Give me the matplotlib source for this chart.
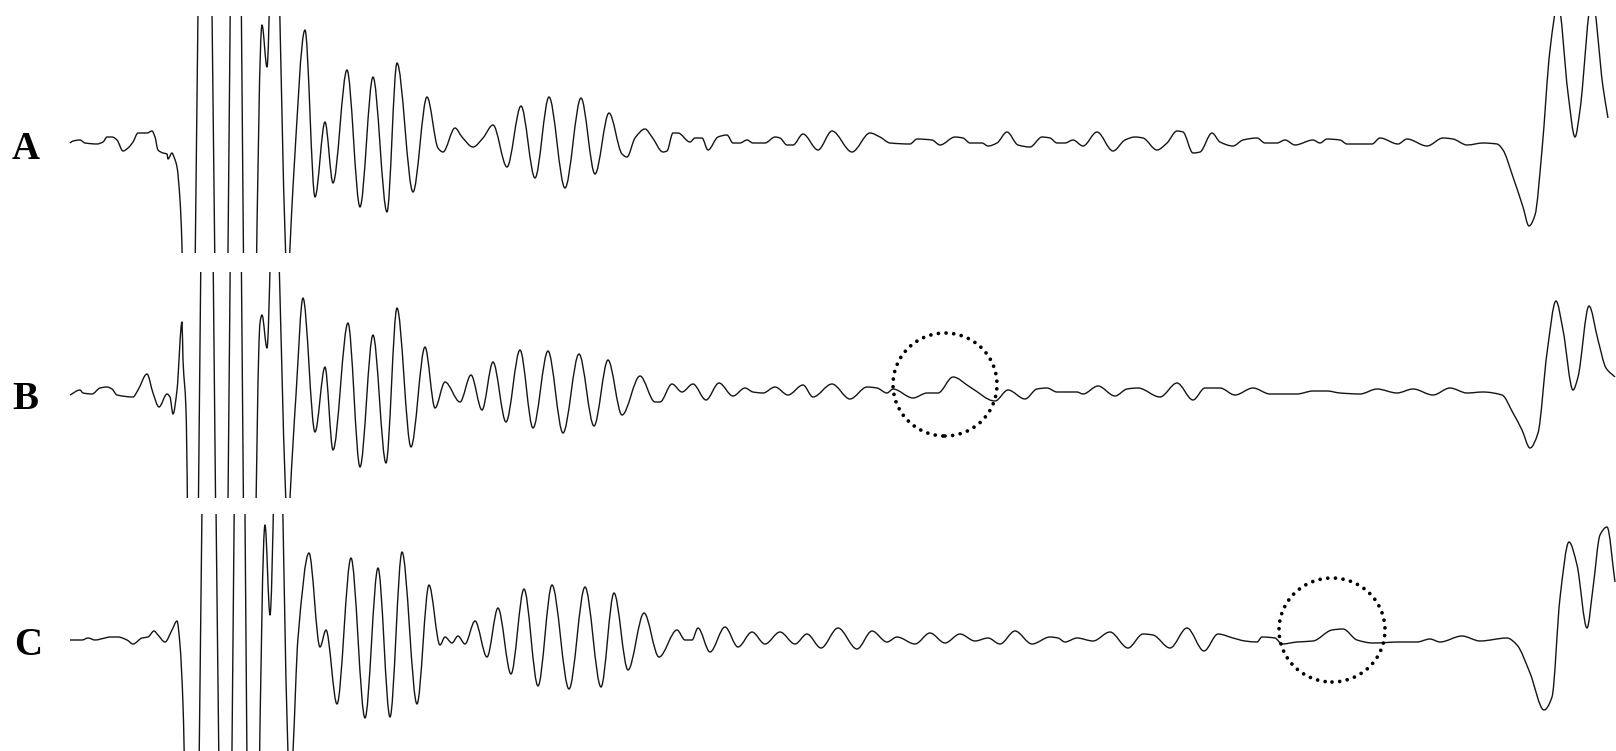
import numpy as np
import matplotlib
matplotlib.use("Agg")
import matplotlib.pyplot as plt
from matplotlib.path import Path
from matplotlib.patches import PathPatch, Ellipse

# ---------------- data (time sample, amplitude relative to baseline) ----------------
labels = ["A", "B", "C"]

a_t = [70, 73, 80, 85, 97, 103, 107, 112, 117, 123, 128, 133, 138, 143, 147, 152, 155, 158, 163, 167,
       168, 172, 174, 177, 180, 182, 188, 205, 222, 236, 249, 262, 267, 274, 285, 287.5, 290, 293, 305,
       315, 325, 333, 347, 360, 373, 387, 397, 413, 427, 438, 443, 455, 462, 473, 483, 493, 507, 521,
       535, 549, 565, 581, 595, 609, 622, 627, 635, 645, 652, 663, 667, 673, 678, 690, 695, 702, 708,
       718, 727, 733, 740, 747, 753, 765, 775, 780, 787, 793, 803, 818, 832, 852, 870, 880, 890, 910,
       917, 932, 940, 955, 963, 970, 982, 988, 997, 1007, 1018, 1030, 1042, 1050, 1057, 1065, 1073,
       1083, 1097, 1113, 1125, 1135, 1143, 1157, 1167, 1177, 1183, 1193, 1200, 1212, 1220, 1233, 1243,
       1257, 1265, 1277, 1285, 1295, 1313, 1320, 1327, 1340, 1347, 1372, 1380, 1398, 1407, 1427, 1443,
       1453, 1467, 1483, 1497, 1503, 1513, 1523, 1529, 1535, 1542, 1550, 1558, 1568, 1575, 1580, 1592,
       1603, 1608]
a_v = [0, 2, 3, 0, -1, 1, 6, 6, 3, -8, -5, 1, 10, 10, 10, 12, 6, -7, -10, -11,
       -16, -10, -14, -24, -57, -104, -500, 500, -500, 500, -500, 118, 76, 300, -90, -150, -104, -44, 113,
       -54, 21, -40, 73, -64, 66, -69, 80, -49, 46, -5, -9, 15, 6, -4, 5, 18, -24, 37,
       -35, 46, -45, 45, -31, 30, -11, -14, 5, 14, 6, -9, -8, 10, 10, 1, 5, 5, -7,
       6, 8, 0, 0, 3, 0, 0, 6, 5, -2, -2, 9, -7, 12, -9, 10, 6, 0, -1,
       4, 3, -2, 6, 5, 0, 0, -3, 0, 11, -2, -4, 6, 5, 0, 0, 3,
       -3, 11, -8, 3, 6, 5, -7, 0, 12, 11, -10, -9, 10, 1, -3, 3,
       5, 0, 0, 3, -2, 3, 0, 4, 3, -1, -1, 5, -1, 4, -3, 5,
       4, -2, 0, -1, -7, -34, -64, -83, -72, -7, 93, 140, 50, 6, 33, 145,
       56, 25]

b_t = [70, 80, 83, 92, 100, 107, 112, 117, 133, 138, 147, 153, 159, 167, 170, 173, 177, 182, 183, 186,
       192, 207, 222, 236, 249, 260, 262, 267, 274, 285, 288, 290, 296, 303, 315, 325, 333, 348, 360,
       373, 386, 397, 411, 425, 435, 445, 460, 471, 482, 493, 506, 520, 533, 548, 563, 579, 594, 608,
       622, 640, 655, 660, 672, 682, 693, 706, 719, 733, 745, 753, 763, 775, 788, 803, 813, 832, 850,
       867, 877, 887, 893, 913, 927, 938, 953, 970, 995, 1008, 1025, 1037, 1047, 1057, 1077, 1083, 1098,
       1115, 1127, 1138, 1160, 1177, 1193, 1205, 1220, 1235, 1253, 1270, 1297, 1313, 1327, 1340, 1360,
       1377, 1397, 1413, 1433, 1450, 1467, 1483, 1502, 1513, 1522, 1530, 1538, 1547, 1556, 1563, 1573,
       1578, 1589, 1598, 1606, 1615]
b_v = [0, 5, 2, 1, 7, 8, 6, 0, -2, 5, 21, 2, -12, 1, -2, -19, 5, 73, 35, -15,
       -500, 500, -500, 500, -500, 72, 80, 47, 250, -82, -150, -103, 0, 97, -37, 28, -55, 72, -72,
       60, -68, 87, -52, 48, -13, 13, -7, 20, -15, 33, -27, 45, -33, 44, -38, 41, -31, 35,
       -20, 19, -7, -7, 11, 3, 11, -5, 12, -1, 7, 3, 2, 8, 0, 10, -2, 11, -4,
       8, 7, 2, 6, -3, 2, 2, 18, 8, -6, 5, -4, 6, 7, 3, 3, 1, 9,
       -1, 6, 7, -2, 12, -5, 7, 7, 0, 7, 1, 1, 4, 4, 2, 1,
       6, 2, 6, 0, 7, 2, 3, 0, -18, -35, -53, -38, 42, 94, 65, 5,
       18, 89, 55, 27, 18]

c_t = [70, 82, 88, 95, 105, 110, 118, 127, 133, 142, 148, 154, 158, 165, 172, 177, 180, 183, 192, 209,
       226, 240, 252, 265, 270, 278, 287, 290, 293, 298, 309, 320, 326, 337, 351, 365, 378, 390, 402,
       417, 429, 440, 445, 452, 458, 465, 475, 487, 498, 511, 524, 538, 552, 569, 585, 601, 614, 628,
       644, 659, 677, 685, 692, 698, 710, 725, 738, 752, 765, 780, 795, 807, 821, 838, 857, 872, 887,
       897, 915, 930, 945, 960, 975, 988, 1000, 1015, 1032, 1050, 1058, 1065, 1077, 1093, 1110, 1128,
       1143, 1153, 1170, 1187, 1204, 1218, 1233, 1245, 1257, 1262, 1275, 1282, 1297, 1313, 1332, 1343,
       1357, 1373, 1400, 1417, 1430, 1440, 1462, 1480, 1507, 1517, 1530, 1544, 1552, 1560, 1569, 1577,
       1587, 1593, 1600, 1607, 1615]
c_v = [0, 0, 2, 0, 2, 3, 3, 0, -4, 2, 3, 9, 5, -2, 10, 19, -5, -65, -500, 500,
       -500, 500, -500, 115, 25, 300, -78, -160, -111, 2, 87, -7, 10, -64, 82, -78, 72, -77, 88,
       -64, 55, -5, 3, -3, 4, -4, 19, -17, 32, -34, 51, -46, 55, -49, 53, -47, 47, -30,
       27, -17, 10, 0, 0, 12, -12, 13, -7, 8, -4, 8, -4, 6, -8, 12, -9, 9, -2,
       3, -4, 7, -3, 6, -1, 2, -4, 9, -4, 3, 2, -2, 2, -1, 8, -8,
       6, 5, -8, 12, -11, 6, 2, -1, -2, 3, 2, -4, -2, -1, 10, 11,
       0, -3, -2, -2, 1, -2, 4, -1, 2, -5, -33, -70, -57, 42, 98, 75,
       12, 52, 105, 113, 58]

# highlighted regions (time centre, amplitude centre, width, height) for B and C
circle_b = (945, 10.5, 104, 103)
circle_c = (1332, 10.0, 106, 104)

# ---------------- layout (pixel geometry of each trace band) ----------------
W, H = 1616, 751
bands = [  # top, bottom, baseline (pixels)
    (16, 253, 143),
    (272, 498, 395),
    (514, 751, 640),
]


def smooth_path(t, v):
    """Monotone cubic Hermite curve through the points, drawn as Bezier segments."""
    t = np.asarray(t, float)
    v = np.asarray(v, float)
    d = np.diff(v) / np.diff(t)
    m = np.zeros_like(v)
    for i in range(1, len(v) - 1):
        if d[i - 1] * d[i] > 0:
            m[i] = 2.0 / (1.0 / d[i - 1] + 1.0 / d[i])
    m[0], m[-1] = d[0], d[-1]
    verts = [(t[0], v[0])]
    codes = [Path.MOVETO]
    for i in range(len(t) - 1):
        h = t[i + 1] - t[i]
        verts += [(t[i] + h / 3, v[i] + m[i] * h / 3),
                  (t[i + 1] - h / 3, v[i + 1] - m[i + 1] * h / 3),
                  (t[i + 1], v[i + 1])]
        codes += [Path.CURVE4] * 3
    return Path(verts, codes)


fig = plt.figure(figsize=(W / 100, H / 100), dpi=100)
fig.patch.set_facecolor("white")

series = [(a_t, a_v), (b_t, b_v), (c_t, c_v)]
axes = []
for (top, bot, base), (t, v) in zip(bands, series):
    ax = fig.add_axes([0, 1 - bot / H, 1, (bot - top) / H])
    ax.set_xlim(0, W)
    ax.set_ylim(-(bot - base), base - top)
    ax.axis("off")
    ax.add_patch(PathPatch(smooth_path(t, v), facecolor="none", edgecolor="#141414",
                           linewidth=1.0, joinstyle="round"))
    axes.append(ax)

for ax, (cx, cy, w, h) in [(axes[1], circle_b), (axes[2], circle_c)]:
    e = Ellipse((cx, cy), w, h, fill=False, edgecolor="black", linewidth=2.7,
                linestyle=(0, (0.001, 2.05)), capstyle="round", clip_on=False, zorder=5)
    ax.add_patch(e)

# labels
over = fig.add_axes([0, 0, 1, 1])
over.set_xlim(0, W)
over.set_ylim(H, 0)
over.axis("off")
over.patch.set_alpha(0)
label_pos = [(25.5, 159), (25, 409), (28, 655)]
for lab, (x, y) in zip(labels, label_pos):
    over.text(x, y, lab, ha="center", va="baseline", fontsize=28, fontweight="bold",
              family="Liberation Serif", color="black")

fig.savefig("out.png", dpi=100, facecolor="white")
